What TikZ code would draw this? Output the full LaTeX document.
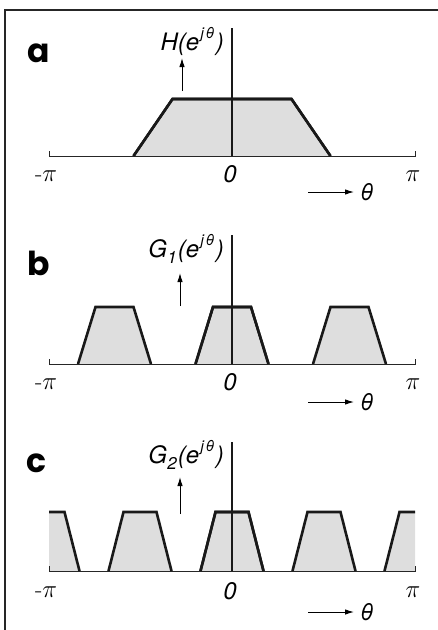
\documentclass[tikz,border=0pt]{standalone}
\usepackage{fontspec}
\setsansfont{TeX Gyre Heros}
\newfontfamily\panelfont{Poppins}
\usetikzlibrary{arrows.meta}
\newcommand\lbl{\sffamily\itshape\fontsize{24}{26}\selectfont}
\newcommand\sups[1]{\kern1.5pt\raisebox{0.46em}{\fontsize{15}{15}\selectfont #1}\kern1.5pt}
\newcommand\subs[1]{\kern0.5pt\raisebox{-0.26em}{\fontsize{17}{17}\selectfont #1}\kern1pt}
\newcommand\trapz[5]{% center, base y, top y, half bottom, half top
  \fill[tfill] ({#1-#4},#2) -- ({#1-#5},#3) -- ({#1+#5},#3) -- ({#1+#4},#2) -- cycle;
  \draw[tline] ({#1-#4},#2) -- ({#1-#5},#3) -- ({#1+#5},#3) -- ({#1+#4},#2);}
\begin{document}
\begin{tikzpicture}[x=1pt,y=-1pt,
  tfill/.style={fill=black!13},
  tline/.style={line width=2.6pt,line join=miter,black!90},
  axis/.style={line width=0.9pt,black!85},
  vaxis/.style={line width=1.2pt,black!90},
  uparr/.style={line width=1pt,-{Latex[length=9pt,width=5.5pt]}},
  rarr/.style={line width=1pt,-{Latex[length=9pt,width=5.5pt]}},
  txt/.style={inner sep=0pt,font=\lbl},
  thtxt/.style={inner sep=0pt,font=\sffamily\itshape\fontsize{23}{25}\selectfont},
  pitxt/.style={inner sep=0pt,font=\fontsize{24}{26}\selectfont},
  panel/.style={inner sep=0pt,font=\panelfont\bfseries\fontsize{33}{36}\selectfont}]
\useasboundingbox (0,0) rectangle (438,630);
% frame
\draw[line width=1.4pt,black!85] (5,630) -- (5,10) -- (438,10);

% ---------------- panel a ----------------
\trapz{232}{156}{99}{98.5}{59.5}
\draw[vaxis] (232,28) -- (232,156);
\draw[axis] (49,151) -- (49,156) -- (415,156) -- (415,151);
\draw[tline] (133.5,156) -- (172.5,99) -- (291.5,99) -- (330.5,156);
\node[panel,anchor=base west] (la) at (27,62) {a};
\node[txt,anchor=base east] (ha) at (224,50) {H(e\sups{j\kern1.5pt θ})};
\coordinate (ua0) at (182,91);
\coordinate (ua1) at (182,58);
\draw[uparr] (ua0) -- (ua1);
\node[pitxt,anchor=base] (ma) at (46,181) {-$\pi$};
\node[txt,anchor=base] (za) at (230,182) {0};
\node[pitxt,anchor=base] (pa) at (413,181) {$\pi$};
\node[thtxt,anchor=west] (ta) at (360,192) {θ};
\coordinate (ra0) at (308,192);

% ---------------- panel b ----------------
\trapz{114.5}{364}{307}{36.5}{19}
\trapz{232}{364}{307}{36.5}{19}
\trapz{349.5}{364}{307}{36.5}{19}
\draw[vaxis] (232,235) -- (232,364);
\draw[axis] (49,359) -- (49,364) -- (415,364) -- (415,359);
\draw[tline] (195.5,364) -- (213,307) -- (251,307) -- (268.5,364);
\node[panel,anchor=base west] (lb) at (27,275) {b};
\node[txt,anchor=base east] (hb) at (224,257) {G\subs{1}(e\sups{j\kern1.5pt θ})};
\coordinate (ub0) at (180,306);
\coordinate (ub1) at (180,273);
\draw[uparr] (ub0) -- (ub1);
\node[pitxt,anchor=base] (mb) at (46,389) {-$\pi$};
\node[txt,anchor=base] (zb) at (230,390) {0};
\node[pitxt,anchor=base] (pb) at (413,389) {$\pi$};
\node[thtxt,anchor=west] (tb) at (360,402) {θ};
\coordinate (rb0) at (308,402);

% ---------------- panel c ----------------
\begin{scope}
\clip (49,480) rectangle (415,580);
\trapz{48}{571}{512}{31.5}{16.5}
\trapz{416}{571}{512}{31.5}{16.5}
\end{scope}
\trapz{140}{571}{512}{31.5}{16.5}
\trapz{232}{571}{512}{31.5}{16.5}
\trapz{324}{571}{512}{31.5}{16.5}
\draw[vaxis] (232,442) -- (232,571);
\draw[axis] (49,566) -- (49,571) -- (415,571) -- (415,566);
\draw[tline] (200.5,571) -- (215.5,512) -- (248.5,512) -- (263.5,571);
\node[panel,anchor=base west] (lc) at (26,472) {c};
\node[txt,anchor=base east] (hc) at (224,463) {G\subs{2}(e\sups{j\kern1.5pt θ})};
\coordinate (uc0) at (180,514);
\coordinate (uc1) at (180,477);
\draw[uparr] (uc0) -- (uc1);
\node[pitxt,anchor=base] (mc) at (46,597) {-$\pi$};
\node[txt,anchor=base] (zc) at (230,599) {0};
\node[pitxt,anchor=base] (pc) at (413,597) {$\pi$};
\node[thtxt,anchor=west] (tc) at (360,612) {θ};
\coordinate (rc0) at (308,612);

% theta arrows
\draw[rarr] (ra0) -- ([xshift=-6pt]ta.west);
\draw[rarr] (rb0) -- ([xshift=-6pt]tb.west);
\draw[rarr] (rc0) -- ([xshift=-6pt]tc.west);
\end{tikzpicture}
\end{document}
